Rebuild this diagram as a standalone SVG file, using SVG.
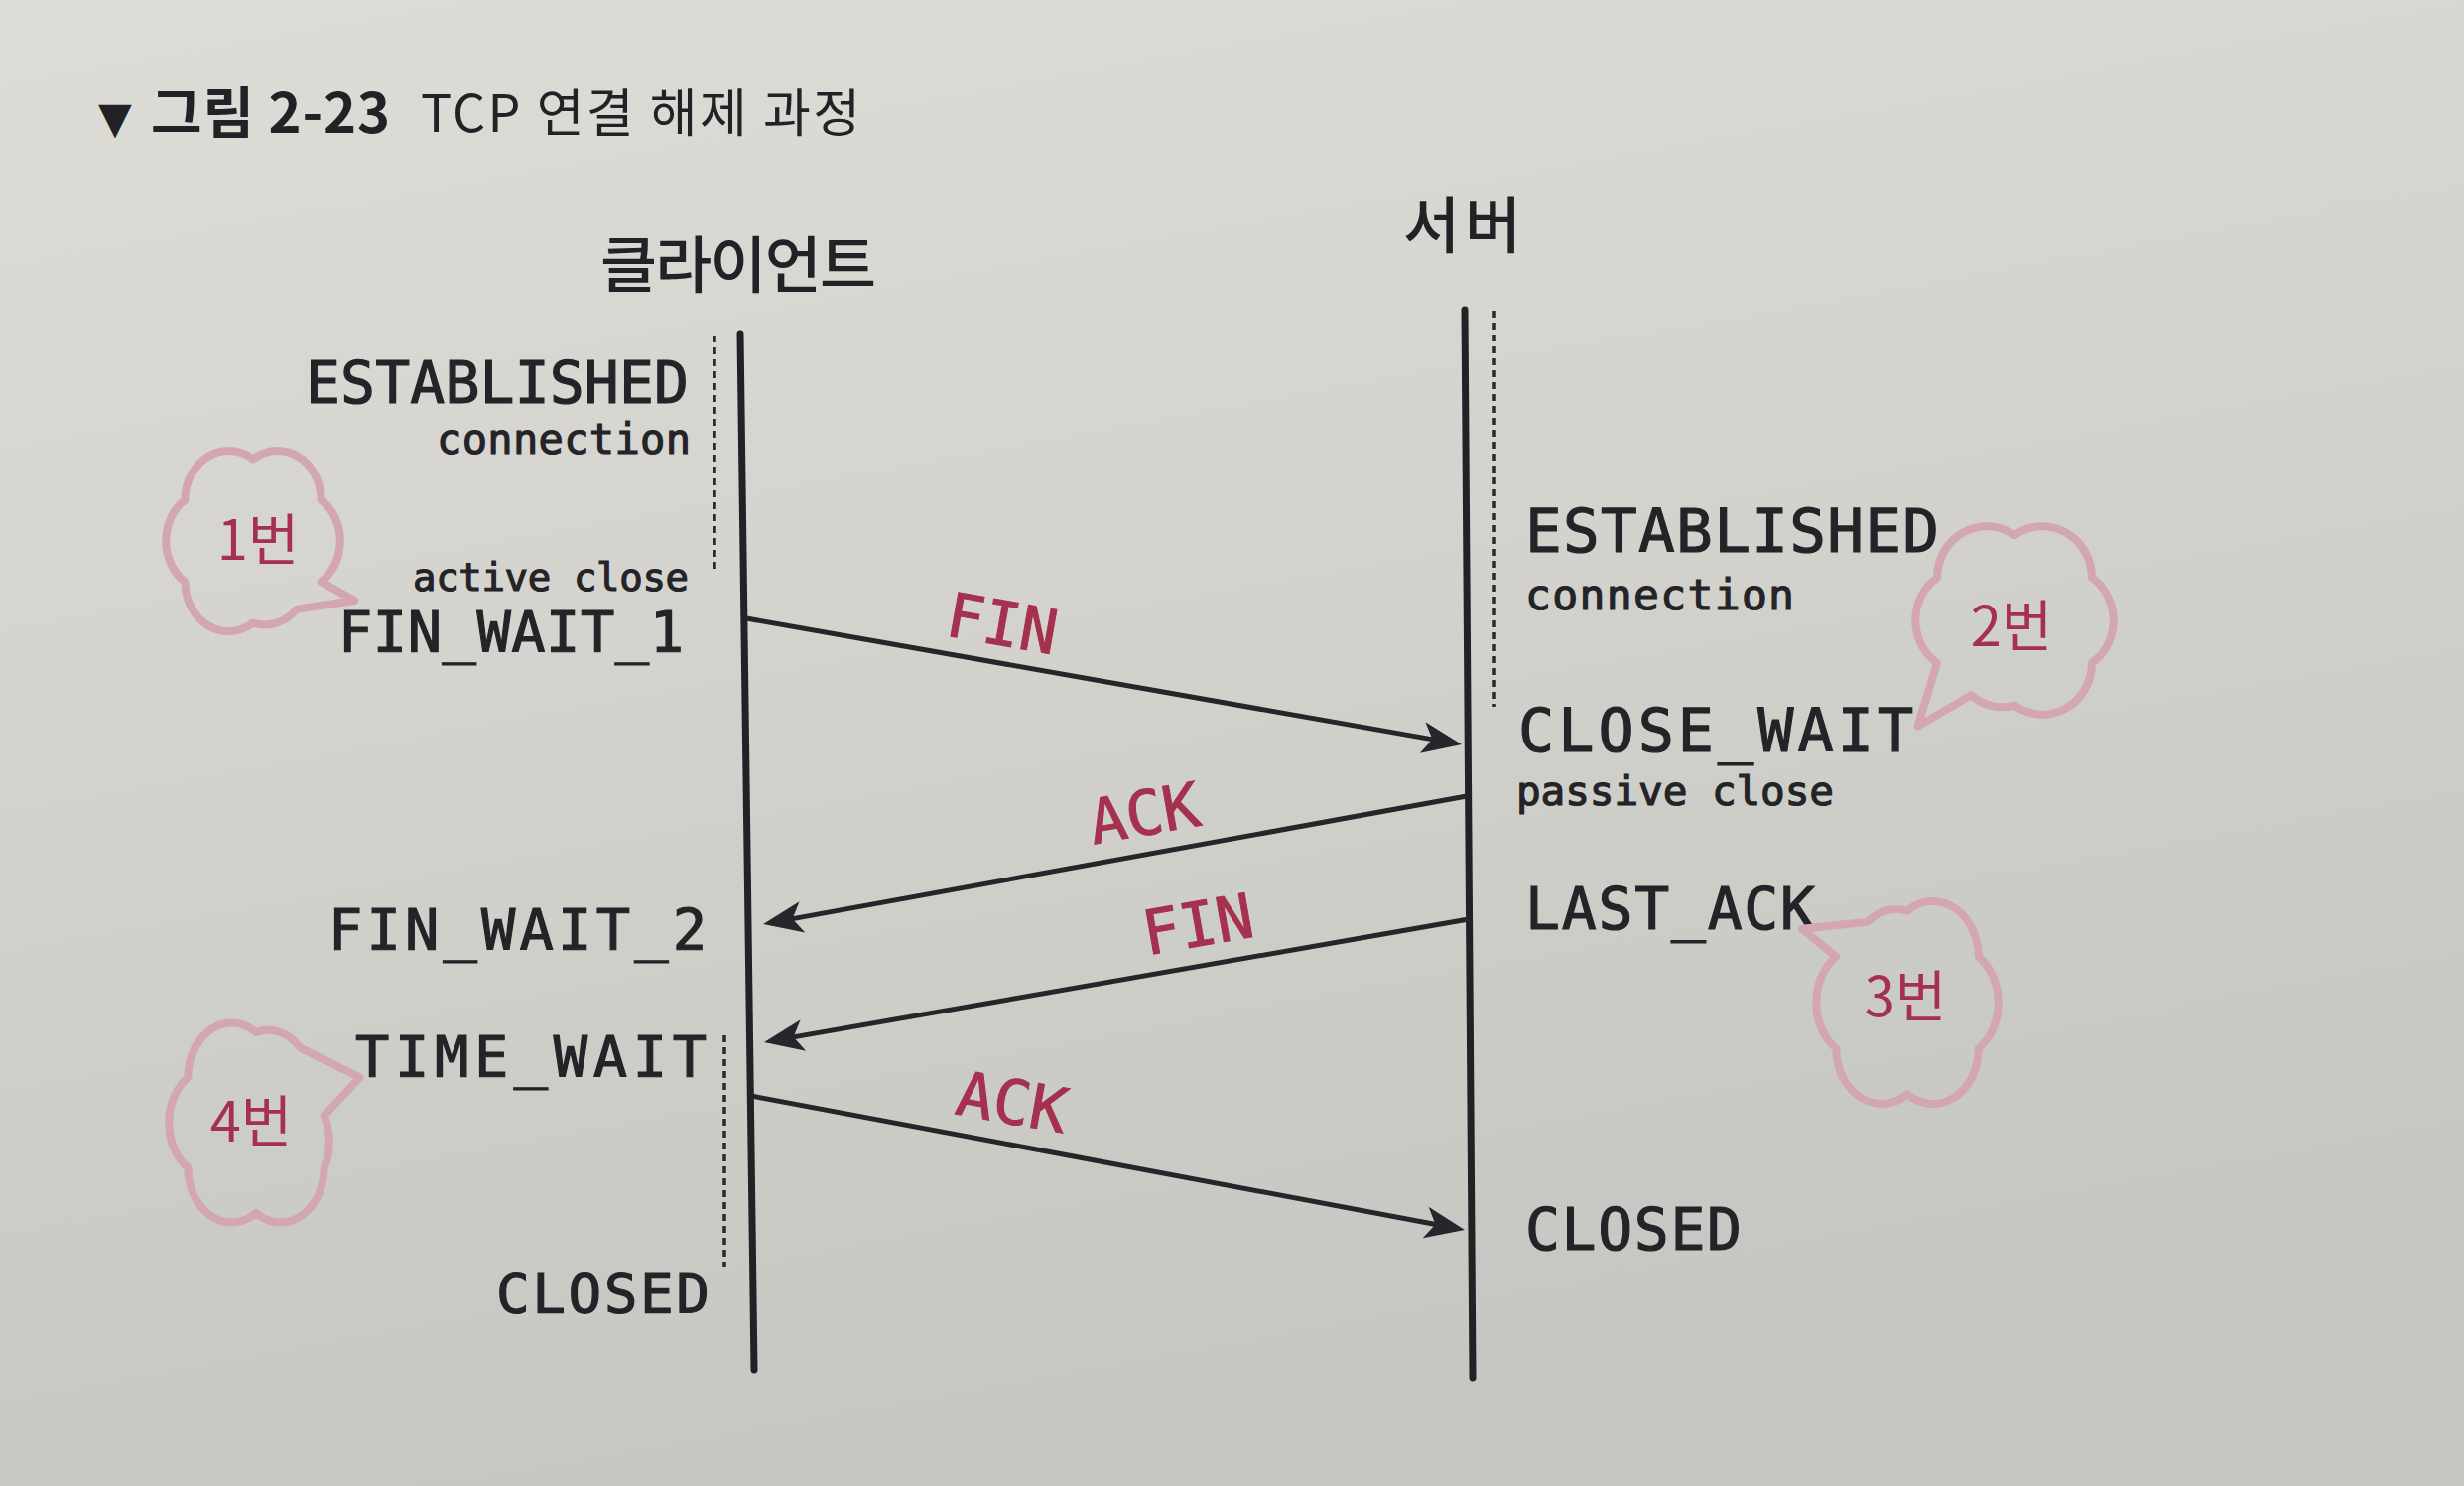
<svg xmlns="http://www.w3.org/2000/svg" width="2483" height="1497" viewBox="0 0 2483 1497">
<defs>
<linearGradient id="bg" x1="0" y1="0" x2="0.3" y2="1">
<stop offset="0" stop-color="#dedcd7"/>
<stop offset="0.5" stop-color="#d3d2cd"/>
<stop offset="1" stop-color="#c6c7c2"/>
</linearGradient>
<marker id="ah" markerUnits="userSpaceOnUse" markerWidth="60" markerHeight="44" viewBox="-45 -22 56 44" refX="-8" refY="0" orient="auto">
<path d="M0,0 L-40,-16 L-30,0 L-40,16 Z" fill="#26262c"/>
</marker>
<style>
.lbl{font-family:"DejaVu Sans Mono","Liberation Mono",monospace;fill:#232328;stroke:#232328;stroke-width:1.2}
.red{font-family:"DejaVu Sans Mono","Liberation Mono",monospace;fill:#a5304f;stroke:#a5304f;stroke-width:1;font-size:62px;text-anchor:middle}
.kor{font-family:"Noto Sans CJK KR","Noto Sans",sans-serif;fill:#222226}
.life{stroke:#222226;stroke-width:7;fill:none;stroke-linecap:round}
.dot{stroke:#2a2a2e;stroke-width:3.5;stroke-dasharray:7 5;fill:none}
.msg{stroke:#25252a;stroke-width:5;fill:none;marker-end:url(#ah)}
.cloud{fill:none;stroke:#d3a6b2;stroke-width:8;stroke-linejoin:round;vector-effect:non-scaling-stroke}
.num{font-family:"Noto Sans CJK KR",sans-serif;fill:#a5304f;font-size:56px;text-anchor:middle}
.e{text-anchor:end}
</style>
</defs>
<rect x="0" y="0" width="2483" height="1497" fill="url(#bg)"/>

<g id="title">
<text x="99" y="134" font-family="DejaVu Sans, sans-serif" font-size="44" fill="#222226">▼</text>
<text class="kor" x="152" y="134" font-size="56" font-weight="700" textLength="241">그림 2-23</text>
<text class="kor" x="424" y="133" font-size="52" textLength="443">TCP 연결 해제 과정</text>
</g>

<g id="client">
<text class="kor" x="605" y="290" font-size="62" font-weight="500" textLength="278">클라이언트</text>
<line class="life" x1="746" y1="336" x2="760" y2="1380"/>
</g>

<g id="server">
<text class="kor" x="1414" y="250" font-size="62" font-weight="500" textLength="119">서버</text>
<line class="life" x1="1476" y1="312" x2="1484" y2="1388"/>
</g>

<g id="client-states">
<line class="dot" x1="720" y1="338" x2="720" y2="578"/>
<line class="dot" x1="730" y1="1043" x2="730" y2="1276"/>
<text class="lbl e" x="694" y="406" font-size="58" textLength="386">ESTABLISHED</text>
<text class="lbl e" x="696" y="457" font-size="42" textLength="256">connection</text>
<text class="lbl e" x="694" y="595" font-size="39" textLength="278">active close</text>
<text class="lbl e" x="689" y="657" font-size="57" textLength="348">FIN_WAIT_1</text>
<text class="lbl e" x="712" y="957" font-size="57" textLength="381">FIN_WAIT_2</text>
<text class="lbl e" x="712" y="1085" font-size="57" textLength="354">TIME_WAIT</text>
<text class="lbl e" x="715" y="1322" font-size="56" textLength="215">CLOSED</text>
</g>

<g id="server-states">
<line class="dot" x1="1506" y1="313" x2="1506" y2="712"/>
<text class="lbl" x="1537" y="556" font-size="61" textLength="417">ESTABLISHED</text>
<text class="lbl" x="1537" y="614" font-size="43" textLength="271">connection</text>
<text class="lbl" x="1530" y="757" font-size="60" textLength="398">CLOSE_WAIT</text>
<text class="lbl" x="1528" y="811" font-size="41" textLength="320">passive close</text>
<text class="lbl" x="1537" y="936" font-size="58" textLength="292">LAST_ACK</text>
<text class="lbl" x="1537" y="1259" font-size="58" textLength="218">CLOSED</text>
</g>

<g id="connectors">
<line class="msg" x1="752" y1="623" x2="1465.1" y2="748.6"/>
<line class="msg" x1="1478" y1="802" x2="776.9" y2="929.6"/>
<line class="msg" x1="1480" y1="926" x2="777.9" y2="1048.6"/>
<line class="msg" x1="757" y1="1104" x2="1468.1" y2="1237.5"/>
<text class="red" x="1010" y="650" transform="rotate(10 1010 628)">FIN</text>
<text class="red" x="1153" y="841" transform="rotate(-10 1153 819)">ACK</text>
<text class="red" x="1207" y="953" transform="rotate(-10 1207 931)">FIN</text>
<text class="red" x="1020" y="1132" transform="rotate(10 1020 1110)">ACK</text>
</g>

<g id="note1">
<path class="cloud" transform="translate(255 545) scale(1.1 1.25)" d="M0,-66 A40,40 0 0 1 62.4,-33 A40,40 0 0 1 62.4,33 L93,48 L40,55 A40,40 0 0 1 0,66 A40,40 0 0 1 -62.4,33 A40,40 0 0 1 -62.4,-33 A40,40 0 0 1 0,-66 Z"/>
<text class="num" x="260" y="564">1번</text>
</g>

<g id="note2">
<path class="cloud" transform="translate(2030 625) scale(1.25 1.3)" d="M0,-66 A40,40 0 0 1 62.4,-33 A40,40 0 0 1 62.4,33 A40,40 0 0 1 0,66 A40,40 0 0 1 -35,58 L-78,82 L-62.4,33 A40,40 0 0 1 -62.4,-33 A40,40 0 0 1 0,-66 Z"/>
<text class="num" x="2027" y="651">2번</text>
</g>

<g id="note3">
<path class="cloud" transform="translate(1922 1010) scale(1.15 1.4)" d="M0,-66 A40,40 0 0 1 62.4,-33 A40,40 0 0 1 62.4,33 A40,40 0 0 1 0,66 A40,40 0 0 1 -62.4,33 A40,40 0 0 1 -62.4,-33 L-92,-53 L-35,-58 A40,40 0 0 1 0,-66 Z"/>
<text class="num" x="1920" y="1024">3번</text>
</g>

<g id="note4">
<path class="cloud" transform="translate(258 1131) scale(1.1 1.38)" d="M0,-66 A40,40 0 0 1 40,-55 L95,-33 L62.4,-5 A40,40 0 0 1 62.4,33 A40,40 0 0 1 0,66 A40,40 0 0 1 -62.4,33 A40,40 0 0 1 -62.4,-33 A40,40 0 0 1 0,-66 Z"/>
<text class="num" x="253" y="1150">4번</text>
</g>
</svg>
